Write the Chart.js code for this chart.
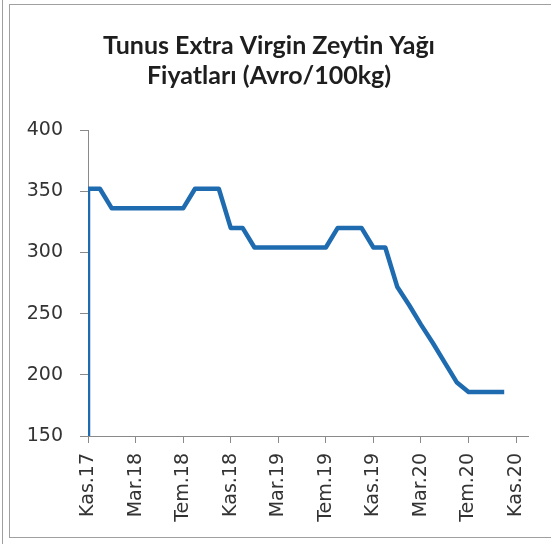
<!DOCTYPE html>
<html>
<head>
<meta charset="utf-8">
<script src="https://cdn.jsdelivr.net/npm/chart.js"></script>
<style>
    html, body { margin: 0; padding: 0; background: #fff; }
    #wrap { position: relative; width: 551px; height: 544px; overflow: hidden; }
    #charts { position: absolute; left: 0; top: 0; }
    .frame { position: absolute; background: #a0a0a0; }
</style>
</head>
<body>
<div id="wrap">
    <canvas id="charts" width="551" height="544"></canvas>
    <div class="frame" style="left:2px;top:0;width:1px;height:544px"></div>
    <div class="frame" style="left:9px;top:4px;width:1px;height:534px"></div>
    <div class="frame" style="left:9px;top:4px;width:542px;height:1px"></div>
    <div class="frame" style="left:9px;top:537px;width:542px;height:1px"></div>
</div>
<script>
const titleLines = ['Tunus Extra Virgin Zeytin Yağı', 'Fiyatları (Avro/100kg)'];

// months counted from Kas.17 (0) to Ara.20 (37)
const monthLabels = [
    'Kas.17', 'Ara.17', 'Oca.18', 'Şub.18', 'Mar.18', 'Nis.18', 'May.18', 'Haz.18',
    'Tem.18', 'Ağu.18', 'Eyl.18', 'Eki.18', 'Kas.18', 'Ara.18', 'Oca.19', 'Şub.19',
    'Mar.19', 'Nis.19', 'May.19', 'Haz.19', 'Tem.19', 'Ağu.19', 'Eyl.19', 'Eki.19',
    'Kas.19', 'Ara.19', 'Oca.20', 'Şub.20', 'Mar.20', 'Nis.20', 'May.20', 'Haz.20',
    'Tem.20', 'Ağu.20', 'Eyl.20', 'Eki.20', 'Kas.20', 'Ara.20'
];

// first row is an empty (zero) entry in the same month as the first price
const monthIndex = [0, 0, 1, 2, 3, 4, 5, 6, 7, 8, 9, 10, 11, 12, 13, 14, 15, 16, 17,
    18, 19, 20, 21, 22, 23, 24, 25, 26, 27, 28, 29, 30, 31, 32, 33, 34, 35];
const prices = [0, 352, 352, 336, 336, 336, 336, 336, 336, 336, 352, 352, 352, 320, 320,
    304, 304, 304, 304, 304, 304, 304, 320, 320, 320, 304, 304, 272, 257, 241, 226,
    210, 194, 186, 186, 186, 186];

const yTicks = [150, 200, 250, 300, 350, 400];

const axisGray = '#8a8a8a';
const textColor = '#333';

let ctx = document.getElementById('charts');

new Chart(ctx, {
    type: 'line',
    data: {
        datasets: [{
            label: 'Fiyat',
            data: monthIndex.map((m, i) => ({ x: m, y: prices[i] })),
            borderColor: '#1f6bb0',
            borderWidth: 4.5,
            borderJoinStyle: 'round',
            pointRadius: 0,
            tension: 0,
            fill: false
        }]
    },
    options: {
        responsive: false,
        animation: false,
        layout: {
            padding: { left: 10, right: 23, top: 0, bottom: 8 }
        },
        plugins: {
            legend: { display: false },
            tooltip: { enabled: false },
            title: {
                display: true,
                text: titleLines,
                color: '#1e1e1e',
                font: { family: 'Lato', size: 25, weight: 'bold', lineHeight: 1.2 },
                padding: { top: 31, bottom: 39 }
            }
        },
        scales: {
            x: {
                type: 'linear',
                min: 0,
                max: monthLabels.length - 1,
                afterFit: (scale) => { scale.height = 100; },
                grid: {
                    drawOnChartArea: false,
                    color: axisGray,
                    tickLength: 7
                },
                border: { color: axisGray, width: 1 },
                ticks: {
                    stepSize: 4,
                    includeBounds: false,
                    autoSkip: false,
                    minRotation: 90,
                    maxRotation: 90,
                    padding: 10,
                    color: textColor,
                    font: { family: 'DejaVu Sans', size: 19 },
                    callback: (value) => monthLabels[value]
                }
            },
            y: {
                min: yTicks[0],
                max: yTicks[yTicks.length - 1],
                afterFit: (scale) => { scale.width = 78; },
                afterBuildTicks: (scale) => { scale.ticks = yTicks.map(v => ({ value: v })); },
                grid: {
                    drawOnChartArea: false,
                    color: axisGray,
                    tickLength: 8
                },
                border: { color: axisGray, width: 1 },
                ticks: {
                    padding: 17,
                    color: textColor,
                    font: { family: 'DejaVu Sans', size: 19 }
                }
            }
        }
    }
});
</script>
</body>
</html>
